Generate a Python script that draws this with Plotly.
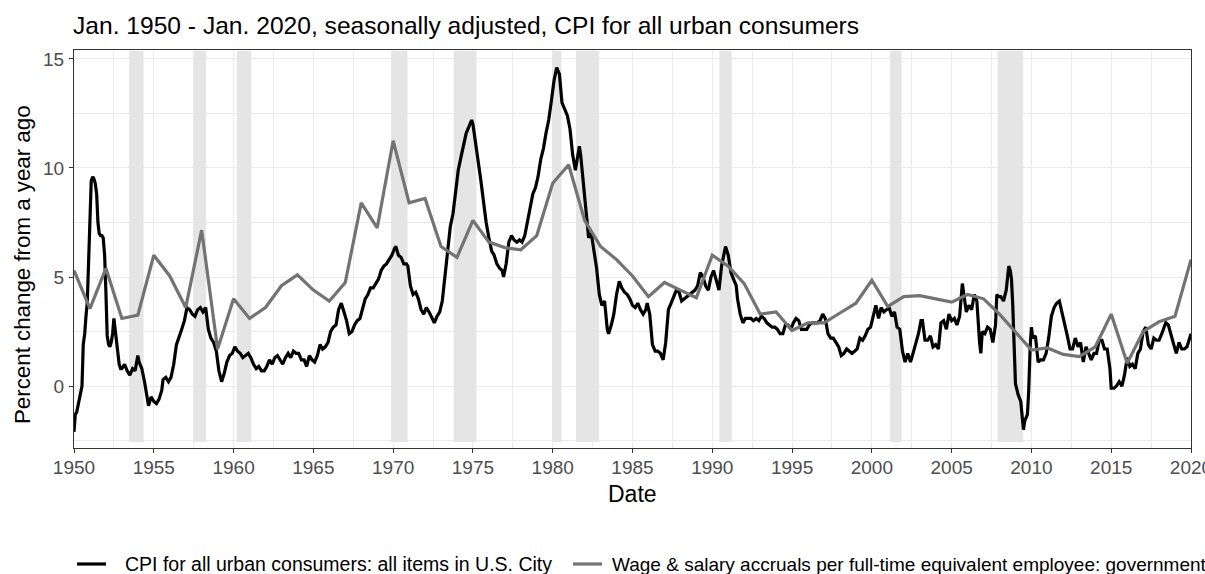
import plotly.graph_objects as go

# ---------------- data ----------------
cpi_date = [
    1950.00, 1950.08, 1950.17, 1950.25, 1950.33, 1950.42, 1950.50, 1950.58, 1950.67, 1950.75, 1950.83, 1950.92,
    1951.00, 1951.08, 1951.17, 1951.25, 1951.33, 1951.42, 1951.50, 1951.58, 1951.67, 1951.75, 1951.83, 1951.92,
    1952.00, 1952.08, 1952.17, 1952.25, 1952.33, 1952.42, 1952.50, 1952.58, 1952.67, 1952.75, 1952.83, 1952.92,
    1953.00, 1953.17, 1953.33, 1953.50, 1953.67, 1953.83, 1953.92, 1954.00, 1954.08, 1954.25, 1954.42, 1954.58,
    1954.67, 1954.83, 1955.00, 1955.17, 1955.33, 1955.50, 1955.58, 1955.75, 1955.92, 1956.08, 1956.25, 1956.42,
    1956.58, 1956.75, 1956.92, 1957.08, 1957.25, 1957.42, 1957.58, 1957.75, 1957.92, 1958.08, 1958.25, 1958.42,
    1958.58, 1958.75, 1958.92, 1959.08, 1959.25, 1959.42, 1959.58, 1959.75, 1959.92, 1960.08, 1960.25, 1960.42,
    1960.58, 1960.75, 1960.92, 1961.08, 1961.25, 1961.42, 1961.58, 1961.75, 1961.92, 1962.08, 1962.25, 1962.42,
    1962.58, 1962.75, 1962.92, 1963.08, 1963.25, 1963.42, 1963.58, 1963.75, 1963.92, 1964.08, 1964.25, 1964.42,
    1964.58, 1964.75, 1964.92, 1965.08, 1965.25, 1965.42, 1965.58, 1965.75, 1965.92, 1966.08, 1966.25, 1966.42,
    1966.58, 1966.75, 1966.92, 1967.08, 1967.25, 1967.42, 1967.58, 1967.75, 1967.92, 1968.08, 1968.25, 1968.42,
    1968.58, 1968.75, 1968.92, 1969.08, 1969.25, 1969.42, 1969.58, 1969.75, 1969.92, 1970.08, 1970.17, 1970.33,
    1970.50, 1970.67, 1970.83, 1970.92, 1971.08, 1971.25, 1971.42, 1971.58, 1971.75, 1971.92, 1972.08, 1972.25,
    1972.42, 1972.58, 1972.75, 1972.92, 1973.08, 1973.25, 1973.42, 1973.58, 1973.75, 1973.92, 1974.08, 1974.25,
    1974.42, 1974.58, 1974.75, 1974.92, 1975.00, 1975.17, 1975.33, 1975.50, 1975.67, 1975.83, 1976.00, 1976.17,
    1976.33, 1976.50, 1976.67, 1976.83, 1976.92, 1977.08, 1977.25, 1977.42, 1977.58, 1977.75, 1977.92, 1978.08,
    1978.25, 1978.42, 1978.58, 1978.75, 1978.92, 1979.08, 1979.25, 1979.42, 1979.58, 1979.75, 1979.92, 1980.08,
    1980.25, 1980.42, 1980.58, 1980.75, 1980.92, 1981.08, 1981.25, 1981.42, 1981.58, 1981.67, 1981.75, 1981.92,
    1982.08, 1982.25, 1982.42, 1982.58, 1982.75, 1982.92, 1983.08, 1983.25, 1983.42, 1983.50, 1983.67, 1983.83,
    1984.00, 1984.17, 1984.33, 1984.50, 1984.67, 1984.83, 1985.00, 1985.17, 1985.33, 1985.50, 1985.67, 1985.83,
    1985.92, 1986.08, 1986.25, 1986.42, 1986.58, 1986.75, 1986.92, 1987.08, 1987.25, 1987.42, 1987.58, 1987.75,
    1987.92, 1988.08, 1988.25, 1988.42, 1988.58, 1988.75, 1988.92, 1989.08, 1989.25, 1989.42, 1989.58, 1989.75,
    1989.92, 1990.08, 1990.25, 1990.42, 1990.58, 1990.75, 1990.83, 1991.00, 1991.17, 1991.33, 1991.50, 1991.58,
    1991.75, 1991.92, 1992.08, 1992.25, 1992.42, 1992.58, 1992.75, 1992.92, 1993.08, 1993.25, 1993.42, 1993.58,
    1993.75, 1993.92, 1994.08, 1994.25, 1994.42, 1994.58, 1994.75, 1994.92, 1995.08, 1995.25, 1995.42, 1995.58,
    1995.75, 1995.92, 1996.08, 1996.25, 1996.42, 1996.58, 1996.75, 1996.92, 1997.08, 1997.25, 1997.42, 1997.58,
    1997.75, 1997.92, 1998.08, 1998.25, 1998.42, 1998.58, 1998.75, 1998.92, 1999.08, 1999.25, 1999.42, 1999.58,
    1999.75, 1999.92, 2000.08, 2000.25, 2000.42, 2000.58, 2000.75, 2000.92, 2001.08, 2001.25, 2001.42, 2001.58,
    2001.75, 2001.92, 2002.08, 2002.25, 2002.42, 2002.58, 2002.75, 2002.92, 2003.08, 2003.17, 2003.33, 2003.50,
    2003.67, 2003.83, 2004.00, 2004.17, 2004.33, 2004.50, 2004.67, 2004.83, 2005.00, 2005.17, 2005.33, 2005.50,
    2005.67, 2005.75, 2005.92, 2006.08, 2006.25, 2006.42, 2006.58, 2006.75, 2006.83, 2006.92, 2007.08, 2007.25,
    2007.42, 2007.58, 2007.75, 2007.83, 2007.92, 2008.08, 2008.25, 2008.42, 2008.58, 2008.67, 2008.75, 2008.83,
    2008.92, 2009.00, 2009.17, 2009.33, 2009.50, 2009.58, 2009.75, 2009.83, 2009.92, 2010.00, 2010.08, 2010.25,
    2010.42, 2010.58, 2010.75, 2010.92, 2011.08, 2011.25, 2011.42, 2011.58, 2011.75, 2011.92, 2012.08, 2012.25,
    2012.42, 2012.58, 2012.75, 2012.92, 2013.08, 2013.25, 2013.42, 2013.58, 2013.75, 2013.92, 2014.08, 2014.25,
    2014.42, 2014.58, 2014.75, 2014.92, 2015.00, 2015.17, 2015.33, 2015.50, 2015.67, 2015.83, 2016.00, 2016.17,
    2016.33, 2016.50, 2016.67, 2016.83, 2017.00, 2017.17, 2017.33, 2017.50, 2017.67, 2017.83, 2018.00, 2018.17,
    2018.42, 2018.58, 2018.75, 2018.92, 2019.08, 2019.25, 2019.42, 2019.58, 2019.75, 2019.92, 2020.00,
]
cpi_value = [
    -2.1, -1.3, -1.2, -0.9, -0.6, -0.2, 0.0, 1.9, 2.4, 3.2, 3.8, 5.8,
    8.3, 9.4, 9.6, 9.5, 9.3, 8.8, 7.5, 7.0, 6.9, 6.9, 6.8, 6.0,
    4.3, 2.3, 1.9, 1.8, 2.0, 2.4, 3.1, 2.6, 2.0, 1.3, 1.0, 0.8,
    0.8, 1.0, 0.7, 0.5, 0.8, 0.7, 1.0, 1.4, 1.1, 0.8, 0.2, -0.6,
    -0.9, -0.5, -0.7, -0.8, -0.6, -0.2, 0.3, 0.4, 0.2, 0.4, 1.0, 1.9,
    2.2, 2.6, 3.0, 3.6, 3.5, 3.3, 3.2, 3.5, 3.6, 3.4, 3.6, 2.6,
    2.2, 2.0, 1.6, 0.7, 0.2, 0.6, 1.1, 1.4, 1.5, 1.8, 1.6, 1.5,
    1.3, 1.4, 1.5, 1.3, 1.0, 0.8, 0.9, 0.7, 0.7, 0.9, 1.2, 1.0,
    1.3, 1.4, 1.2, 1.0, 1.3, 1.5, 1.3, 1.6, 1.5, 1.5, 1.2, 1.2,
    0.9, 1.4, 1.2, 1.1, 1.4, 1.9, 1.7, 1.8, 2.0, 2.5, 2.7, 2.8,
    3.5, 3.8, 3.4, 3.0, 2.4, 2.5, 2.8, 3.0, 3.1, 3.6, 4.0, 4.2,
    4.5, 4.5, 4.7, 4.9, 5.3, 5.5, 5.6, 5.8, 6.0, 6.3, 6.4, 6.0,
    5.9, 5.6, 5.6, 5.5, 4.6, 4.2, 4.3, 4.0, 3.5, 3.3, 3.6, 3.4,
    3.1, 2.9, 3.2, 3.4, 3.9, 5.0, 6.0, 7.3, 7.9, 8.8, 9.9, 10.5,
    11.0, 11.6, 11.9, 12.2, 12.0, 11.2, 10.3, 9.4, 8.4, 7.5, 6.8, 6.2,
    6.0, 5.6, 5.4, 5.3, 5.0, 5.6, 6.6, 6.9, 6.7, 6.6, 6.7, 6.6,
    6.9, 7.5, 8.2, 8.8, 9.1, 9.6, 10.4, 10.9, 11.6, 12.2, 13.1, 14.0,
    14.6, 14.3, 13.0, 12.7, 12.4, 11.8, 10.6, 9.9, 10.7, 11.0, 10.6, 9.2,
    7.9, 6.8, 7.0, 6.2, 5.4, 4.2, 3.7, 3.9, 2.6, 2.4, 2.8, 3.3,
    4.2, 4.8, 4.5, 4.3, 4.2, 4.0, 3.7, 3.6, 3.8, 3.5, 3.3, 3.5,
    3.8, 3.3, 1.9, 1.6, 1.6, 1.5, 1.2, 2.0, 3.5, 3.8, 4.1, 4.4,
    4.3, 3.9, 4.0, 4.1, 4.2, 4.3, 4.4, 4.6, 5.2, 5.0, 4.6, 4.4,
    5.0, 5.3, 4.8, 4.4, 5.5, 6.2, 6.4, 6.0, 5.2, 4.9, 4.6, 4.0,
    3.3, 2.9, 3.1, 3.1, 3.1, 3.0, 3.1, 3.0, 3.2, 3.1, 2.9, 2.8,
    2.7, 2.7, 2.6, 2.4, 2.4, 2.8, 2.8, 2.6, 2.9, 3.1, 3.0, 2.6,
    2.6, 2.6, 2.8, 2.9, 2.9, 2.9, 3.0, 3.3, 3.1, 2.4, 2.2, 2.2,
    2.0, 1.8, 1.4, 1.5, 1.7, 1.6, 1.5, 1.6, 1.7, 2.2, 2.1, 2.3,
    2.6, 2.7, 3.2, 3.7, 3.1, 3.6, 3.4, 3.5, 3.6, 3.2, 3.4, 2.7,
    2.6, 1.6, 1.1, 1.5, 1.1, 1.5, 1.9, 2.4, 3.0, 3.0, 2.1, 2.1,
    2.3, 1.8, 1.9, 1.7, 2.9, 3.0, 2.6, 3.3, 3.0, 3.1, 2.8, 3.2,
    4.7, 4.3, 3.4, 3.7, 3.5, 4.2, 3.9, 2.0, 1.5, 2.5, 2.4, 2.7,
    2.6, 2.0, 2.8, 4.2, 4.1, 4.1, 3.9, 4.4, 5.5, 5.3, 4.9, 3.7,
    1.1, 0.1, -0.4, -0.7, -2.0, -1.6, -1.3, -0.2, 1.8, 2.7, 2.2, 2.3,
    1.1, 1.2, 1.2, 1.5, 2.2, 3.2, 3.6, 3.8, 3.9, 3.4, 2.8, 2.3,
    1.7, 1.7, 2.2, 1.8, 2.0, 1.1, 1.8, 1.5, 1.2, 1.5, 1.5, 2.1,
    2.1, 1.7, 1.7, 0.8, -0.1, -0.1, 0.0, 0.2, 0.0, 0.5, 1.3, 0.9,
    1.0, 0.8, 1.5, 1.7, 2.5, 2.7, 1.9, 1.7, 2.2, 2.1, 2.1, 2.4,
    2.9, 2.8, 2.3, 1.9, 1.5, 2.0, 1.7, 1.7, 1.8, 2.3, 2.4,
]

wage_year = list(range(1950, 2021))
wage_value = [
    5.3, 3.55, 5.4, 3.1, 3.25, 6.0, 5.05, 3.6, 7.15, 1.7,
    4.0, 3.1, 3.6, 4.6, 5.1, 4.4, 3.9, 4.75, 8.4, 7.25,
    11.25, 8.4, 8.6, 6.4, 5.9, 7.6, 6.6, 6.35, 6.25, 6.9,
    9.3, 10.15, 7.6, 6.4, 5.8, 5.05, 4.1, 4.75, 4.4, 4.05,
    6.0, 5.5, 4.7, 3.3, 3.4, 2.55, 2.9, 2.9, 3.35, 3.8,
    4.85, 3.65, 4.1, 4.15, 4.0, 3.85, 4.2, 4.0, 3.3, 2.5,
    1.65, 1.75, 1.45, 1.35, 1.8, 3.3, 1.05, 2.5, 2.95, 3.2,
    5.8,
]

rec_start = [1953.45, 1957.5, 1960.2, 1969.87, 1973.8, 1979.98, 1981.46, 1990.45, 2001.14, 2007.88]
rec_end = [1954.36, 1958.28, 1961.12, 1970.9, 1975.22, 1980.55, 1982.9, 1991.22, 2001.86, 2009.48]

x_ticks = list(range(1950, 2021, 5))
y_ticks = [0, 5, 10, 15]

series_names = [
    "CPI for all urban consumers: all items in U.S. City",
    "Wage & salary accruals per full-time equivalent employee: government",
]
series_colors = ["#000000", "#737373"]

title_text = "Jan. 1950 - Jan. 2020, seasonally adjusted, CPI for all urban consumers"

# ---------------- figure ----------------
W, H = 1205, 574
L, R, T, B = 74, 14, 50, 126
PW, PH = W - L - R, H - T - B


def px_x(px):
    return (px - L) / PW


def px_y(py):
    return (H - B - py) / PH


FONT = "Liberation Sans, Arial, sans-serif"

fig = go.Figure()

for s, e in zip(rec_start, rec_end):
    fig.add_shape(type="rect", xref="x", yref="y", x0=s, x1=e, y0=-2.57, y1=15.37,
                  fillcolor="#E5E5E5", line_width=0, layer="between")

fig.add_trace(go.Scatter(x=cpi_date, y=cpi_value, mode="lines", name=series_names[0],
                         line=dict(color=series_colors[0], width=3.2), showlegend=False))
fig.add_trace(go.Scatter(x=wage_year, y=wage_value, mode="lines", name=series_names[1],
                         line=dict(color=series_colors[1], width=3.2), showlegend=False))

fig.update_layout(
    template="none",
    width=W, height=H,
    margin=dict(l=L, r=R, t=T, b=B, autoexpand=False),
    paper_bgcolor="white", plot_bgcolor="white",
    font=dict(family=FONT, color="#000000"),
    title=dict(text=title_text, x=73 / W, xref="container", xanchor="left",
               y=1 - 25 / H, yref="container", yanchor="middle",
               font=dict(size=24.6, color="#000000", family=FONT)),
    showlegend=False,
)

fig.update_xaxes(
    range=[1950, 2020], tickmode="array", tickvals=x_ticks, ticktext=[str(v) for v in x_ticks],
    showgrid=True, gridcolor="#EBEBEB", gridwidth=1.1, zeroline=False,
    minor=dict(tickmode="linear", tick0=1952.5, dtick=5, showgrid=True, gridcolor="#EBEBEB", gridwidth=0.6),
    ticks="outside", ticklen=4, tickwidth=1.1, tickcolor="#333333",
    tickfont=dict(size=19, color="#4D4D4D", family=FONT),
    ticklabeloverflow="allow", ticklabelstandoff=-2,
    showline=True, mirror=True, linecolor="#333333", linewidth=1.1,
    automargin=False,
)
fig.update_yaxes(
    range=[-2.84, 15.41], tickmode="array", tickvals=y_ticks, ticktext=[str(v) for v in y_ticks],
    showgrid=True, gridcolor="#EBEBEB", gridwidth=1.1, zeroline=False,
    minor=dict(tickmode="linear", tick0=-2.5, dtick=5, showgrid=True, gridcolor="#EBEBEB", gridwidth=0.6),
    ticks="outside", ticklen=4, tickwidth=1.1, tickcolor="#333333",
    tickfont=dict(size=19, color="#4D4D4D", family=FONT),
    ticklabeloverflow="allow", ticklabelstandoff=1,
    showline=True, mirror=True, linecolor="#333333", linewidth=1.1,
    automargin=False,
)

# axis titles
fig.add_annotation(text="Date", xref="paper", yref="paper", x=px_x(632), y=px_y(494),
                   xanchor="center", yanchor="middle", showarrow=False,
                   font=dict(size=23, color="#000000", family=FONT))
fig.add_annotation(text="Percent change from a year ago", xref="paper", yref="paper",
                   x=px_x(22), y=px_y(265), xanchor="center", yanchor="middle",
                   textangle=-90, showarrow=False,
                   font=dict(size=22.3, color="#000000", family=FONT))

# legend (bottom, drawn manually so it runs off the right edge like the reference)
leg_y = px_y(564)
leg_items = [(77, 106, 123, 19.5), (573, 602, 610, 19.0)]
for (x0, x1, xt, fs), name, col in zip(leg_items, series_names, series_colors):
    fig.add_shape(type="line", xref="paper", yref="paper", x0=px_x(x0), x1=px_x(x1),
                  y0=leg_y, y1=leg_y, line=dict(color=col, width=3.2))
    fig.add_annotation(text=name, xref="paper", yref="paper", x=px_x(xt), y=leg_y,
                       xanchor="left", yanchor="middle", showarrow=False,
                       font=dict(size=fs, color="#000000", family=FONT))

fig.write_html("out.html", config={"displayModeBar": False},
               post_script="document.body.style.margin='0';document.body.style.overflow='hidden';")
